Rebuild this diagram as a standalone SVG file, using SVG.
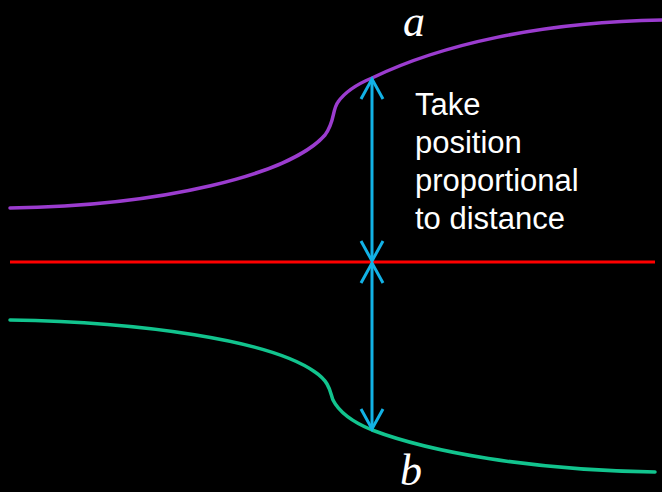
<svg xmlns="http://www.w3.org/2000/svg" width="662" height="492" viewBox="0 0 662 492">
<style>
.curve{fill:none;stroke-width:3.5;stroke-linecap:round}
.arr{fill:none;stroke:#12b2e6;stroke-width:3}
.lbl{font-family:"Liberation Sans",Arial,sans-serif;font-size:31px;fill:#fff}
.var{font-family:"Liberation Serif","DejaVu Serif",serif;font-style:italic;font-size:44px;fill:#fff}
</style>
<defs>
<marker id="chev" viewBox="-24 -14 28 28" markerWidth="28" markerHeight="28" refX="0" refY="0" orient="auto-start-reverse" markerUnits="userSpaceOnUse">
<path d="M-20,-11 L0,0 L-20,11" fill="none" stroke="#12b2e6" stroke-width="3" stroke-linejoin="miter"/>
</marker>
</defs>
<rect width="662" height="492" fill="#000"/>
<g id="curve-a">
<path class="curve" stroke="#9b3ccf" d="M10,208 C160,206 290,175 325,135 C335,122 332,110 338,102 C345,92 355,85 372,78 C440,45 540,22 662,20"/>
</g>
<g id="curve-b">
<path class="curve" stroke="#12c48e" d="M10,320 C140,322 270,340 315,372 C330,382 330,392 333,400 C340,414 355,423 372,430 C430,452 530,470 655,472"/>
</g>
<g id="midline">
<line x1="10" y1="262" x2="655" y2="262" stroke="#ff0000" stroke-width="3"/>
</g>
<g id="connectors">
<line class="arr" x1="372" y1="261" x2="372" y2="79" marker-start="url(#chev)" marker-end="url(#chev)"/>
<line class="arr" x1="372" y1="263" x2="372" y2="429" marker-start="url(#chev)" marker-end="url(#chev)"/>
</g>
<g id="label-a"><text class="var" x="403" y="36">a</text></g>
<g id="label-b"><text class="var" x="400" y="485">b</text></g>
<g id="note">
<text class="lbl" x="415" y="115">Take</text>
<text class="lbl" x="415" y="153">position</text>
<text class="lbl" x="415" y="191">proportional</text>
<text class="lbl" x="415" y="229">to distance</text>
</g>
</svg>
